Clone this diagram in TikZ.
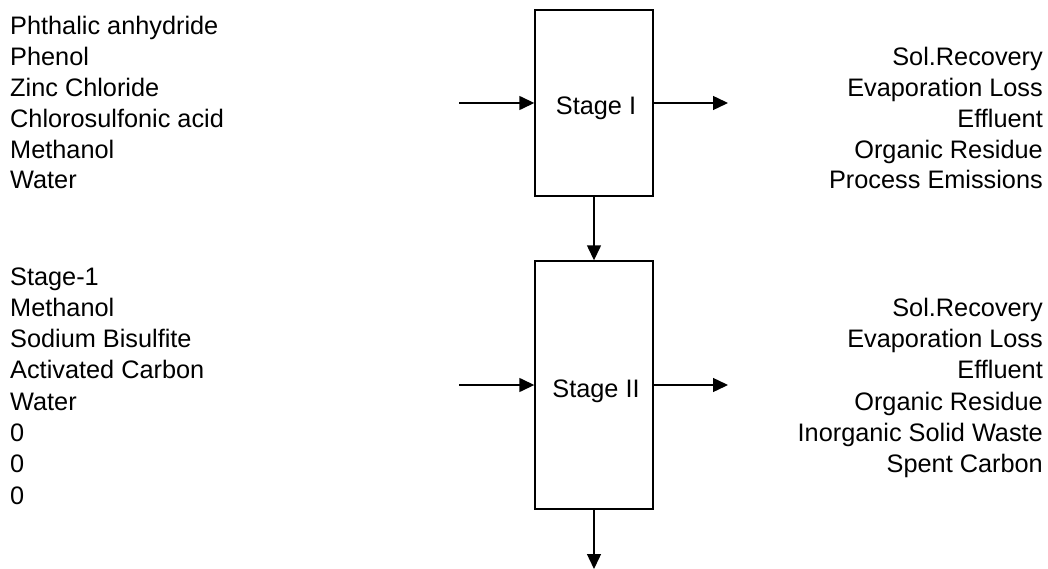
\documentclass[tikz,border=0pt]{standalone}
\usepackage{fontspec}
\setmainfont{Liberation Sans}
\usetikzlibrary{arrows.meta}
\begin{document}
\begin{tikzpicture}[x=1pt,y=-1pt,
  every node/.style={font=\fontsize{25.3}{30}\selectfont, inner sep=0pt},
  stagebox/.style={draw, line width=1.4pt, minimum width=118pt},
  flow/.style={line width=1.4pt, -{Triangle[length=15pt,width=14pt]}},
  leftlbl/.style={anchor=base west},
  rightlbl/.style={anchor=base east}]
\useasboundingbox (0,0) rectangle (1048,569);

% stage boxes
\node[stagebox, minimum height=186pt] (s1) at (594,103) {};
\node[anchor=base] (t1) at (596,115) {Stage I};
\node[stagebox, minimum height=248pt] (s2) at (594,385) {};
\node[anchor=base] (t2) at (596,397) {Stage II};

% connectors
\coordinate (in1) at (459,103);
\coordinate (out1) at (728,103);
\coordinate (in2) at (459,385);
\coordinate (out2) at (728,385);
\coordinate (bot) at (594,569);
\draw[flow] (in1) -- (s1.west);
\draw[flow] (s1.east) -- (out1);
\draw[flow] (s1.south) -- (s2.north);
\draw[flow] (in2) -- (s2.west);
\draw[flow] (s2.east) -- (out2);
\draw[flow] (s2.south) -- (bot);

% stage I inputs
\foreach \t [count=\i from 0] in {Phthalic anhydride, Phenol, Zinc Chloride, Chlorosulfonic acid, Methanol, Water}
  \node[leftlbl] (a\i) at (10, 34.5+30.9*\i) {\t};
% stage I outputs
\foreach \t [count=\i from 1] in {Sol.Recovery, Evaporation Loss, Effluent, Organic Residue, Process Emissions}
  \node[rightlbl] (b\i) at (1043, 34.5+30.9*\i) {\t};
% stage II inputs
\foreach \t [count=\i from 0] in {Stage-1, Methanol, Sodium Bisulfite, Activated Carbon, Water, 0, 0, 0}
  \node[leftlbl] (c\i) at (10, 285+31.3*\i) {\t};
% stage II outputs
\foreach \t [count=\i from 1] in {Sol.Recovery, Evaporation Loss, Effluent, Organic Residue, Inorganic Solid Waste, Spent Carbon}
  \node[rightlbl] (d\i) at (1043, 285+31.3*\i) {\t};
\end{tikzpicture}
\end{document}
